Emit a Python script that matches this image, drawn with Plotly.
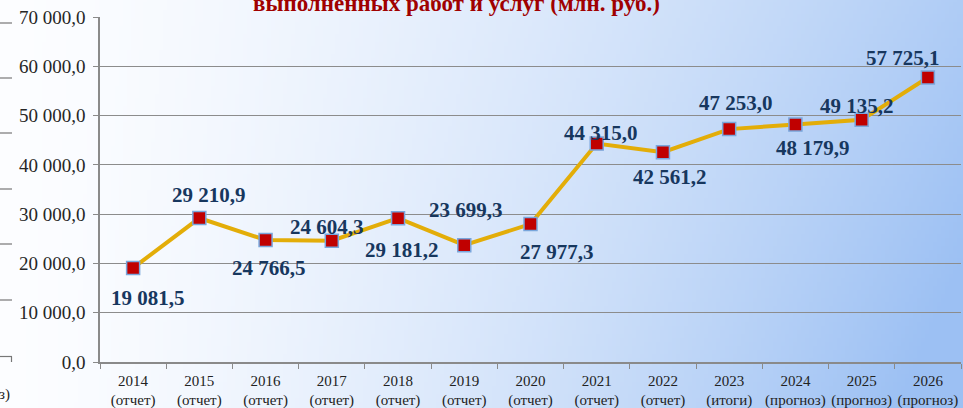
import base64
import struct
import zlib

import plotly.graph_objects as go

# ---------------- data ----------------
years = ["2014", "2015", "2016", "2017", "2018", "2019", "2020",
         "2021", "2022", "2023", "2024", "2025", "2026"]
statuses = ["(отчет)", "(отчет)", "(отчет)", "(отчет)", "(отчет)", "(отчет)", "(отчет)",
            "(отчет)", "(отчет)", "(итоги)", "(прогноз)", "(прогноз)", "(прогноз)"]
values = [19081.5, 29210.9, 24766.5, 24604.3, 29181.2, 23699.3, 27977.3,
          44315.0, 42561.2, 47253.0, 48179.9, 49135.2, 57725.1]
y_tick_values = [0, 10000, 20000, 30000, 40000, 50000, 60000, 70000]
y_tick_labels = ["0,0", "10 000,0", "20 000,0", "30 000,0", "40 000,0",
                 "50 000,0", "60 000,0", "70 000,0"]
title_text = "выполненных работ и услуг (млн. руб.)"

# label offsets (pixels) relative to each point: (dx, dy down-positive)
label_offsets = [(15, 30), (10, -23), (3, 28), (-5, -14), (4, 32), (2, -35), (26, 28),
                 (4, -11), (7, 25), (7, -26), (18, 23), (-5, -14), (-25, -20)]

SERIF = "Liberation Serif, Times New Roman, DejaVu Serif, serif"

# ---------------- geometry ----------------
FIG_W, FIG_H = 963, 408
L, R, T, B = 100, 961, 17, 362
PW, PH = R - L, B - T


def px(x):
    return (x - L) / PW


def py(y):
    return (B - y) / PH


def fmt(v):
    return f"{v:,.1f}".replace(",", " ").replace(".", ",")


# ---------------- background gradient image ----------------
def make_png(w, h, fn):
    rows = []
    for yy in range(h):
        row = bytearray(b"\x00")
        for xx in range(w):
            row.extend(fn(xx / (w - 1), yy / (h - 1)))
        rows.append(bytes(row))
    raw = b"".join(rows)

    def chunk(t, d):
        return struct.pack(">I", len(d)) + t + d + struct.pack(">I", zlib.crc32(t + d) & 0xFFFFFFFF)

    return (b"\x89PNG\r\n\x1a\n"
            + chunk(b"IHDR", struct.pack(">IIBBBBB", w, h, 8, 2, 0, 0, 0))
            + chunk(b"IDAT", zlib.compress(raw, 9))
            + chunk(b"IEND", b""))


def grad(u, v):
    c0 = (252, 253, 255)
    c1 = (156, 192, 243)
    t = (u ** 1.5) * (0.8 + 0.3 * v)
    t = max(0.0, min(1.0, t))
    return bytes(int(round(a + (b - a) * t)) for a, b in zip(c0, c1))


png = make_png(240, 102, grad)
bg_src = "data:image/png;base64," + base64.b64encode(png).decode()

# ---------------- figure ----------------
x_labels = [f"{y}<br>{s}" for y, s in zip(years, statuses)]

fig = go.Figure()
fig.add_trace(go.Scatter(
    x=x_labels, y=values, mode="lines+markers",
    line=dict(color="#E3AD08", width=4),
    marker=dict(symbol="square", size=13, color="#C00000",
                line=dict(color="#79A6DC", width=1.5)),
    hoverinfo="skip", showlegend=False,
))

annotations = []
for xl, v, (dx, dy) in zip(x_labels, values, label_offsets):
    annotations.append(dict(
        x=xl, y=v, xref="x", yref="y", text=f"<b>{fmt(v)}</b>", showarrow=False,
        xanchor="center", yanchor="middle", xshift=dx, yshift=-dy,
        font=dict(family=SERIF, size=21, color="#17375E"),
    ))

# title (partially cut off at top)
annotations.append(dict(
    x=px(456), y=py(3), xref="paper", yref="paper", text=f"<b>{title_text}</b>",
    showarrow=False, xanchor="center", yanchor="middle",
    font=dict(family=SERIF, size=23, color="#A00000"),
))
# remnant of neighbouring chart at left edge
annotations.append(dict(
    x=px(12), y=py(394), xref="paper", yref="paper", text="з)",
    showarrow=False, xanchor="right", yanchor="middle",
    font=dict(family=SERIF, size=15, color="#222222"),
))

shapes = []
for yy in [23, 78, 133, 189, 244, 300, 356.5]:
    shapes.append(dict(type="line", xref="paper", yref="paper",
                       x0=px(0), x1=px(12), y0=py(yy), y1=py(yy),
                       line=dict(color="#777777", width=1.2)))
shapes.append(dict(type="line", xref="paper", yref="paper",
                   x0=px(11.5), x1=px(11.5), y0=py(356.5), y1=py(362),
                   line=dict(color="#777777", width=1.2)))

fig.update_layout(
    template="none",
    width=FIG_W, height=FIG_H,
    margin=dict(l=L, r=FIG_W - R, t=T, b=FIG_H - B, pad=0, autoexpand=False),
    paper_bgcolor="#ffffff", plot_bgcolor="rgba(0,0,0,0)",
    annotations=annotations, shapes=shapes,
    images=[dict(source=bg_src, xref="paper", yref="paper",
                 x=px(0), y=py(0), sizex=FIG_W / PW, sizey=FIG_H / PH,
                 xanchor="left", yanchor="top", sizing="stretch", layer="below")],
    xaxis=dict(
        type="category", range=[-0.5, len(years) - 0.5],
        showgrid=False, zeroline=False, automargin=False,
        showline=True, linecolor="#8a8a8a", linewidth=1.5,
        ticks="outside", tickson="boundaries", ticklen=5, tickcolor="#8a8a8a",
        tickangle=0, ticklabelstandoff=4,
        tickfont=dict(family=SERIF, size=15, color="#222222"),
        fixedrange=True,
    ),
    yaxis=dict(
        range=[0, 70000], tickvals=y_tick_values, ticktext=y_tick_labels,
        showgrid=True, gridcolor="#8c8c8c", gridwidth=1.3, automargin=False,
        zeroline=False, showline=True, linecolor="#8a8a8a", linewidth=1.5,
        ticks="outside", ticklen=5, tickcolor="#8a8a8a",
        tickfont=dict(family=SERIF, size=19, color="#262626"),
        ticklabelstandoff=4, fixedrange=True,
    ),
)

fig.write_html(
    "out.html",
    config={"displayModeBar": False},
    post_script="document.body.style.margin='0';document.body.style.overflow='hidden';",
)
